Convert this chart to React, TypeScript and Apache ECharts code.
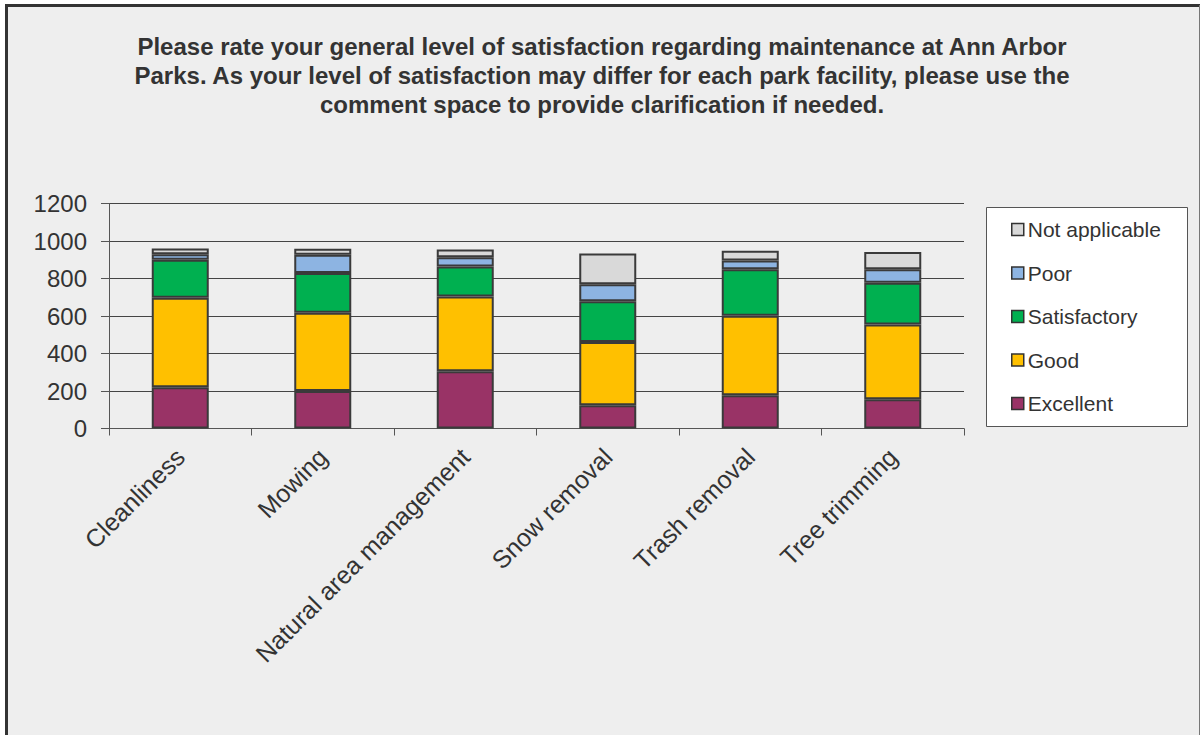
import React, { useEffect, useRef } from "react";
import * as echarts from "echarts";

const categories = [
  "Cleanliness",
  "Mowing",
  "Natural area management",
  "Snow removal",
  "Trash removal",
  "Tree trimming",
];
const excellent = [220, 200, 306, 124, 178, 156];
const good = [477, 418, 398, 338, 423, 399];
const satisfactory = [203, 211, 160, 217, 249, 222];
const poor = [30, 98, 50, 91, 46, 73];
const notApplicable = [30, 32, 41, 163, 52, 91];
const yTicks = { min: 0, max: 1200, interval: 200 };

const titleText =
  "Please rate your general level of satisfaction regarding maintenance at Ann Arbor\nParks. As your level of satisfaction may differ for each park facility, please use the\ncomment space to provide clarification if needed.";

const FONT = "'Liberation Sans', Arial, sans-serif";
const TEXT = "#333333";

export default function App() {
  const ref = useRef<HTMLDivElement>(null);
  useEffect(() => {
    if (!ref.current) return;
    const chart = echarts.init(ref.current, undefined, { renderer: "svg" });
    const mk = (name: string, data: number[], color: string) => ({
      name,
      type: "bar",
      stack: "total",
      data,
      barWidth: 57,
      itemStyle: { color, borderColor: "#3a3a3a", borderWidth: 2 },
    });
    chart.setOption({
      animation: false,
      backgroundColor: "#ffffff",
      graphic: [
        {
          type: "rect",
          shape: { x: 6, y: 5, width: 1194, height: 740 },
          style: { fill: "#eeeeee" },
          z: -10,
        },
        {
          type: "line",
          shape: { x1: 6.5, y1: 5.5, x2: 1200, y2: 5.5 },
          style: { stroke: "#333333", lineWidth: 3 },
        },
        {
          type: "line",
          shape: { x1: 6.5, y1: 4, x2: 6.5, y2: 735 },
          style: { stroke: "#333333", lineWidth: 3 },
        },
        {
          type: "line",
          shape: { x1: 1199.5, y1: 5, x2: 1199.5, y2: 735 },
          style: { stroke: "#777777", lineWidth: 1 },
        },
        {
          type: "rect",
          shape: { x: 986.5, y: 207.5, width: 201, height: 219 },
          style: { fill: "#ffffff", stroke: "#555555", lineWidth: 1 },
          z: 1,
        },
        {
          type: "text",
          x: 602,
          y: 32,
          z: 10,
          style: {
            text: titleText,
            fontFamily: FONT,
            fontSize: 24,
            fontWeight: "bold",
            fill: TEXT,
            lineHeight: 29,
            align: "center",
            verticalAlign: "top",
          },
        },
      ],
      legend: {
        data: ["Not applicable", "Poor", "Satisfactory", "Good", "Excellent"],
        orient: "vertical",
        left: 986,
        top: 207,
        padding: [12, 10, 10, 25],
        itemWidth: 12,
        itemHeight: 12,
        itemGap: 22.5,
        icon: "rect",
        z: 5,
        itemStyle: { borderColor: "#333333", borderWidth: 1.5 },
        textStyle: {
          fontFamily: FONT,
          fontSize: 21,
          color: TEXT,
          lineHeight: 20,
          padding: [0, 0, 0, -1],
        },
      },
      grid: { left: 109, right: 237, top: 203.5, bottom: 306.5 },
      xAxis: {
        type: "category",
        data: categories,
        axisLine: { lineStyle: { color: "#555555", width: 1 } },
        axisTick: { show: true, length: 7, lineStyle: { color: "#555555" } },
        axisLabel: {
          rotate: 45,
          fontFamily: FONT,
          fontSize: 25,
          color: TEXT,
          margin: 24,
          interval: 0,
        },
      },
      yAxis: {
        type: "value",
        ...yTicks,
        axisLine: { show: true, lineStyle: { color: "#555555", width: 1 } },
        axisTick: { show: true, length: 8, lineStyle: { color: "#555555" } },
        splitLine: { lineStyle: { color: "#444444", width: 1 } },
        axisLabel: {
          fontFamily: FONT,
          fontSize: 24,
          color: TEXT,
          margin: 22,
          formatter: (v: number) => String(v),
        },
      },
      series: [
        mk("Excellent", excellent, "#993366"),
        mk("Good", good, "#FFC000"),
        mk("Satisfactory", satisfactory, "#00B050"),
        mk("Poor", poor, "#8DB4E2"),
        mk("Not applicable", notApplicable, "#D9D9D9"),
      ],
    });
    return () => chart.dispose();
  }, []);
  return (
    <div
      ref={ref}
      style={{ position: "absolute", left: 0, top: 0, width: 1201, height: 735 }}
    />
  );
}
